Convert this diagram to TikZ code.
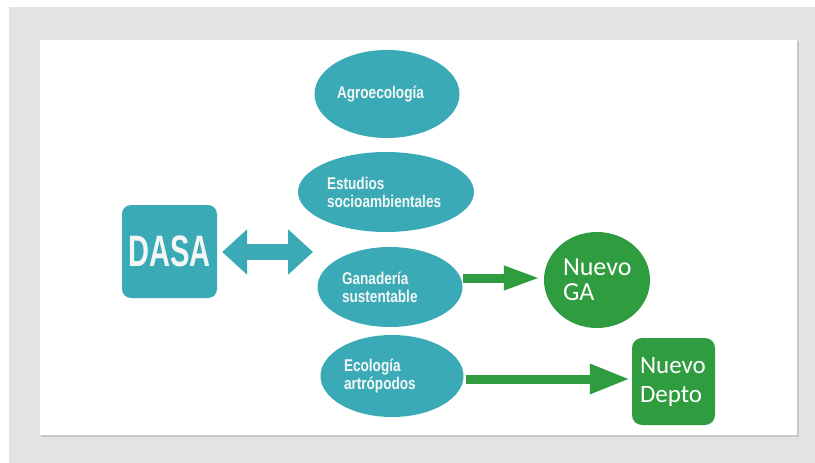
\documentclass[tikz,border=0pt]{standalone}
\usepackage{fontspec}
\usepackage{tikz}
\usetikzlibrary{shapes.geometric,arrows.meta}

\setmainfont{Liberation Sans}
\newfontfamily\narrowfont[FakeStretch=0.8]{Liberation Sans}
\newfontfamily\dasafont[FakeStretch=0.66]{Liberation Sans}
\newfontfamily\calfont{Carlito}

\definecolor{dasateal}{HTML}{3AABB6}
\definecolor{newgreen}{HTML}{2E9C3F}
\definecolor{slidegray}{HTML}{E4E3E3}
\definecolor{slideshadow}{HTML}{C9C8C8}
\definecolor{labelwhite}{HTML}{F4F6F6}

\tikzset{
  area/.style={ellipse, fill=dasateal, inner sep=0pt, text=labelwhite, align=left,
    font=\narrowfont\bfseries\fontsize{17}{18}\selectfont},
  newunit/.style={fill=newgreen, text=white, inner sep=0pt, align=left},
  tealarrow/.style={dasateal, line width=16pt,
    {Triangle[length=25pt,width=44pt]}-{Triangle[length=25pt,width=44pt]}},
  greenarrow/.style={newgreen, line width=9pt}
}

\begin{document}
\begin{tikzpicture}[x=1pt, y=-1pt]

      \useasboundingbox (0,0) rectangle (815,463);
      \fill[white] (0,0) rectangle (815,463);
      \fill[slidegray] (9,7) rectangle (815,463);
      \fill[slideshadow] (41,41) rectangle (798.5,437);
      \fill[white] (40,40) rectangle (797,435);

      \node [fill=dasateal, rounded corners=9pt, minimum width=95pt, minimum height=93pt,
        text=labelwhite, font=\dasafont\bfseries\fontsize{44}{44}\selectfont]
        (dasa) at (169.5,251.5) {DASA};

      \foreach \n/\x/\y/\w/\h/\tw/\t in {
          agro/387/94/145/88/100/{Agroecología},
          estud/386/192/176/80/118/{Estudios\\socioambientales},
          gan/390/287/145/80/96/{Ganadería\\sustentable},
          eco/392/376/143/82/96/{Ecología\\artrópodos}}
      \node [area, minimum width=\w pt, minimum height=\h pt, text width=\tw pt]
        (\n) at (\x,\y) {\t};

      \node [newunit, ellipse, minimum width=106pt, minimum height=96pt, text width=68pt,
        font=\calfont\fontsize{26}{25}\selectfont] (ga) at (597,280) {Nuevo\\GA};

      \node [newunit, rounded corners=10pt, minimum width=83pt, minimum height=87pt,
        text width=67pt, font=\calfont\fontsize{25}{29}\selectfont]
        (depto) at (673.5,381.5) {Nuevo\\Depto};

      \coordinate (hub) at (313,252);
      \draw [tealarrow] ([xshift=5pt,yshift=-0.5pt]dasa.east) -- (hub);

      \draw [greenarrow, -{Triangle[length=37pt,width=22pt]}]
        ([yshift=9pt]gan.east) -- ([xshift=-3pt,yshift=2pt]ga.west);
      \draw [greenarrow, -{Triangle[length=40pt,width=28pt]}]
        ([xshift=2pt,yshift=-3pt]eco.east) -- ([xshift=-2pt,yshift=2.5pt]depto.west);

    \end{tikzpicture}
\end{document}
